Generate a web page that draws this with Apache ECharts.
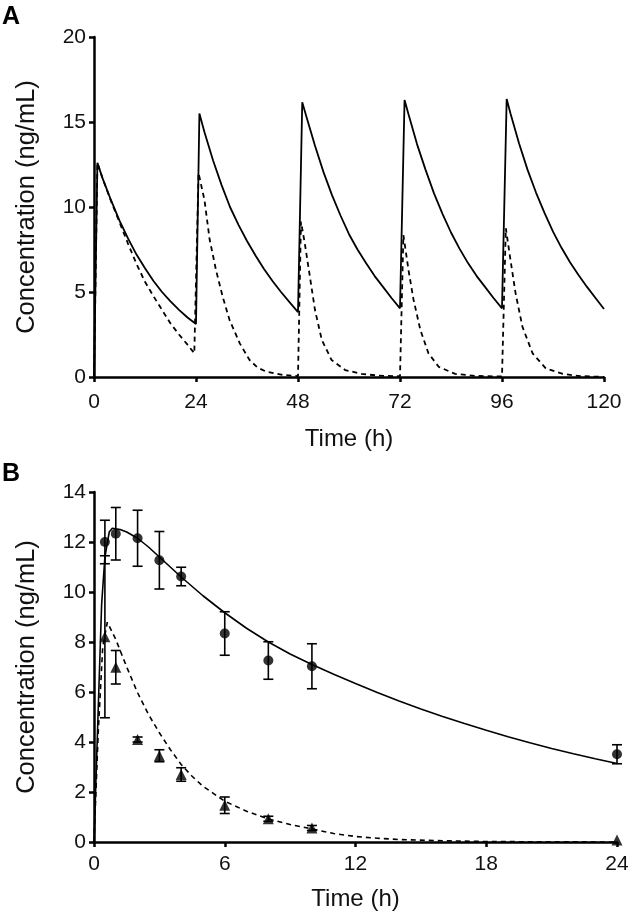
<!DOCTYPE html>
<html>
<head>
<meta charset="utf-8">
<script src="https://cdn.jsdelivr.net/npm/echarts@6/dist/echarts.min.js"></script>
<style>
  html, body { margin: 0; padding: 0; background: #fff; }
  #chart { width: 633px; height: 917px; }
</style>
</head>
<body>
<div id="chart"></div>
<script>
// ---------- Panel A: simulated multiple-dose profiles ----------
const aTicksX = [0, 24, 48, 72, 96, 120];
const aTicksY = [0, 5, 10, 15, 20];

const aSolidTime = [0, 0.8, 2, 4, 6, 8, 10, 12, 14, 16, 18, 20, 22, 24,
  24.8, 26, 28, 30, 32, 34, 36, 38, 40, 42, 44, 46, 48,
  49, 50, 52, 54, 56, 58, 60, 62, 64, 66, 68, 70, 72,
  73.07, 74, 76, 78, 80, 82, 84, 86, 88, 90, 92, 94, 96,
  97.1, 98, 100, 102, 104, 106, 108, 110, 112, 114, 116, 118, 120];
const aSolidConc = [0, 12.6, 11.7, 10.4, 9.2, 8.15, 7.2, 6.4, 5.65, 5.0, 4.45, 3.95, 3.5, 3.12,
  15.5, 14.4, 12.75, 11.3, 10.0, 8.95, 8.0, 7.15, 6.35, 5.65, 5.0, 4.4, 3.82,
  16.16, 15.3, 13.6, 12.05, 10.7, 9.5, 8.4, 7.5, 6.7, 5.95, 5.3, 4.65, 4.04,
  16.3, 15.45, 13.7, 12.2, 10.8, 9.6, 8.5, 7.55, 6.7, 5.95, 5.3, 4.65, 4.04,
  16.35, 15.5, 13.75, 12.2, 10.85, 9.65, 8.55, 7.6, 6.75, 6.0, 5.3, 4.65, 4.0];

const aDashTime = [0, 0.8, 2, 4, 6, 8, 10, 12, 14, 16, 18, 20, 22, 23.6,
  24.6, 26, 27.2, 28.7, 30.3, 31.9, 34.3, 36.6, 38.5, 40.6, 44.5, 48,
  48.7, 49.6, 50.8, 52.0, 53.6, 55.9, 59.1, 63, 67, 72,
  72.8, 74.0, 75.2, 76.8, 78.7, 81.1, 85, 90, 96,
  96.9, 98.0, 99.2, 100.8, 103.2, 106.3, 110.3, 114.5, 120];
const aDashConc = [0, 12.6, 11.7, 10.35, 9.1, 7.85, 6.65, 5.6, 4.75, 3.95, 3.15, 2.5, 1.9, 1.4,
  12.0, 10.4, 8.1, 6.3, 4.7, 3.35, 1.98, 1.0, 0.55, 0.31, 0.12, 0.05,
  9.14, 7.86, 5.9, 3.94, 2.18, 1.0, 0.41, 0.18, 0.08, 0.04,
  8.35, 6.29, 4.53, 2.76, 1.39, 0.6, 0.18, 0.06, 0.03,
  8.75, 6.88, 4.92, 2.96, 1.39, 0.51, 0.18, 0.05, 0.01];

// ---------- Panel B: observed (mean ± SD) and fitted single-dose ----------
const bTicksX = [0, 6, 12, 18, 24];
const bTicksY = [0, 2, 4, 6, 8, 10, 12, 14];

const bObsTime = [0.5, 1, 2, 3, 4, 6, 8, 10, 24];
const bCircleMean = [12.0, 12.33, 12.15, 11.27, 10.62, 8.34, 7.26, 7.03, 3.51];
const bCircleSD   = [0.87, 1.05, 1.12, 1.15, 0.37, 0.87, 0.75, 0.9, 0.38];
const bTriMean = [8.21, 6.99, 4.1, 3.45, 2.7, 1.47, 0.93, 0.56, 0.08];
const bTriSD   = [3.24, 0.67, 0.1, 0.24, 0.27, 0.33, 0.1, 0.1, 0];

const bSolidTime = [0, 0.2, 0.35, 0.5, 0.7, 0.84, 1.2, 1.5, 2, 2.5, 3, 3.5, 4, 5, 6, 7, 8, 9, 10, 11, 12, 13, 14, 15, 16, 17, 18, 19, 20, 21, 22, 23, 24];
const bSolidConc = [0, 5.5, 9.5, 11.4, 12.4, 12.55, 12.5, 12.4, 12.15, 11.8, 11.4, 11.0, 10.6, 9.85, 9.17, 8.55, 8.0, 7.52, 7.1, 6.71, 6.34, 5.98, 5.64, 5.32, 5.02, 4.74, 4.47, 4.21, 3.97, 3.74, 3.53, 3.33, 3.14];
const bDashTime = [0, 0.2, 0.4, 0.61, 1, 1.5, 2, 2.5, 3, 3.5, 4, 4.5, 5, 6, 7, 8, 9, 10, 11, 12, 13, 14, 16, 18, 20, 24];
const bDashConc = [0, 4.5, 7.8, 8.79, 8.1, 7.0, 5.97, 5.1, 4.37, 3.7, 3.1, 2.63, 2.23, 1.63, 1.23, 0.92, 0.7, 0.52, 0.34, 0.22, 0.15, 0.1, 0.05, 0.02, 0.01, 0];

const xTitle = 'Time (h)';
const yTitle = 'Concentration (ng/mL)';

// ---------- build ----------
const FONT = '"Liberation Sans", Arial, sans-serif';
const pairs = (t, v) => t.map((x, i) => [x, v[i]]);
const triples = (t, m, s) => t.map((x, i) => [x, m[i], s[i]]);

const axisLine = { show: true, onZero: false, lineStyle: { color: '#000', width: 2.5 } };
const axisTick = { show: true, inside: false, length: 5, lineStyle: { color: '#000', width: 2.5 } };

function xAx(gi, ticks, margin, gap) {
  return {
    type: 'value', gridIndex: gi,
    min: ticks[0], max: ticks[ticks.length - 1], interval: ticks[1] - ticks[0],
    axisLine, axisTick, splitLine: { show: false },
    axisLabel: { color: '#111', fontSize: 21, fontFamily: FONT, margin: margin },
    name: xTitle, nameLocation: 'middle', nameGap: gap,
    nameTextStyle: { color: '#111', fontSize: 24, fontFamily: FONT }
  };
}
function yAx(gi, ticks) {
  return {
    type: 'value', gridIndex: gi,
    min: ticks[0], max: ticks[ticks.length - 1], interval: ticks[1] - ticks[0],
    axisLine, axisTick, splitLine: { show: false },
    axisLabel: { color: '#111', fontSize: 21, fontFamily: FONT, margin: 8 },
    name: yTitle, nameLocation: 'middle', nameGap: 54, nameRotate: 90,
    nameTextStyle: { color: '#111', fontSize: 25.5, fontFamily: FONT }
  };
}

function errorBars(xi, data) {
  return {
    type: 'custom', xAxisIndex: xi, yAxisIndex: xi, z: 3,
    data: data,
    encode: { x: 0, y: [1] },
    renderItem: function (params, api) {
      const x = api.value(0), y = api.value(1), e = api.value(2);
      if (!e) return { type: 'group', children: [] };
      const top = api.coord([x, y + e]);
      const bot = api.coord([x, y - e]);
      const hw = 5;
      const st = { stroke: '#000', lineWidth: 1.6 };
      return {
        type: 'group',
        children: [
          { type: 'line', shape: { x1: top[0], y1: top[1], x2: bot[0], y2: bot[1] }, style: st },
          { type: 'line', shape: { x1: top[0] - hw, y1: top[1], x2: top[0] + hw, y2: top[1] }, style: st },
          { type: 'line', shape: { x1: bot[0] - hw, y1: bot[1], x2: bot[0] + hw, y2: bot[1] }, style: st }
        ]
      };
    }
  };
}

const chart = echarts.init(document.getElementById('chart'), null, { renderer: 'canvas' });
chart.setOption({
  animation: false,
  backgroundColor: '#fff',
  title: [
    { text: 'A', left: 2, top: 5, padding: 0, textStyle: { fontSize: 25, fontWeight: 'bold', color: '#000', fontFamily: FONT } },
    { text: 'B', left: 2, top: 462, padding: 0, textStyle: { fontSize: 25, fontWeight: 'bold', color: '#000', fontFamily: FONT } }
  ],
  grid: [
    { left: 94, top: 37, width: 510, height: 340 },
    { left: 94, top: 492, width: 523, height: 350 }
  ],
  xAxis: [xAx(0, aTicksX, 15, 50), xAx(1, bTicksX, 12, 45)],
  yAxis: [yAx(0, aTicksY), yAx(1, bTicksY)],
  series: [
    { type: 'line', xAxisIndex: 0, yAxisIndex: 0, data: pairs(aSolidTime, aSolidConc),
      showSymbol: false, lineStyle: { color: '#000', width: 1.8 } },
    { type: 'line', xAxisIndex: 0, yAxisIndex: 0, data: pairs(aDashTime, aDashConc),
      showSymbol: false, lineStyle: { color: '#000', width: 1.8, type: [5, 4] } },
    { type: 'line', xAxisIndex: 1, yAxisIndex: 1, data: pairs(bSolidTime, bSolidConc),
      showSymbol: false, lineStyle: { color: '#000', width: 1.6 } },
    { type: 'line', xAxisIndex: 1, yAxisIndex: 1, data: pairs(bDashTime, bDashConc),
      showSymbol: false, lineStyle: { color: '#000', width: 1.6, type: [5, 4] } },
    errorBars(1, triples(bObsTime, bCircleMean, bCircleSD)),
    errorBars(1, triples(bObsTime, bTriMean, bTriSD)),
    { type: 'scatter', xAxisIndex: 1, yAxisIndex: 1, data: pairs(bObsTime, bCircleMean),
      symbol: 'circle', symbolSize: 10, itemStyle: { color: '#000' }, z: 4 },
    { type: 'scatter', xAxisIndex: 1, yAxisIndex: 1, data: pairs(bObsTime, bTriMean),
      symbol: 'triangle', symbolSize: 11, itemStyle: { color: '#000' }, z: 4 }
  ]
});
</script>
</body>
</html>
